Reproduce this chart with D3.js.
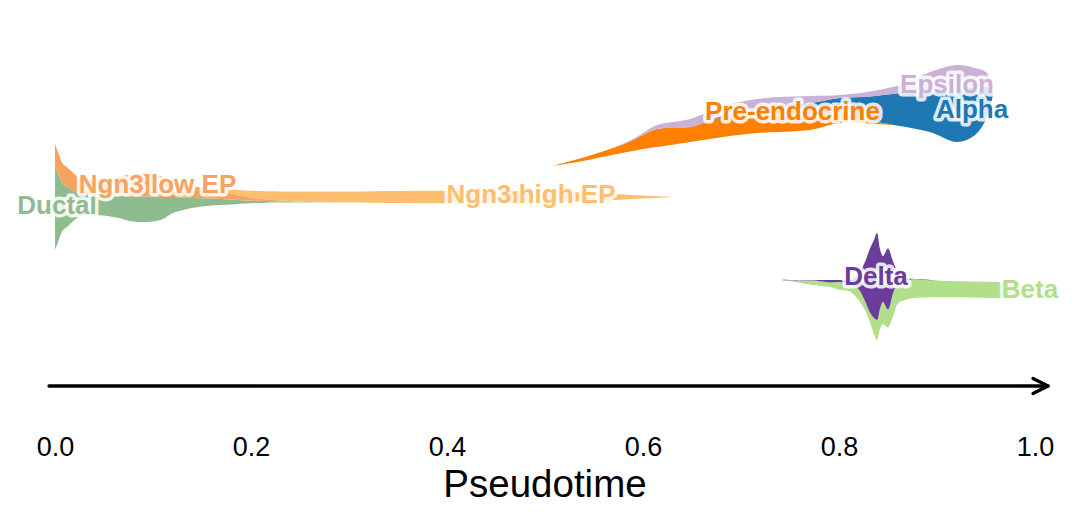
<!DOCTYPE html>
<html>
<head>
<meta charset="utf-8">
<script src="https://cdn.jsdelivr.net/npm/d3@7/dist/d3.min.js"></script>
<style>
  html, body { margin: 0; padding: 0; background: #ffffff; }
  svg { display: block; }
  text { font-family: "Liberation Sans", Arial, Helvetica, sans-serif; }
</style>
</head>
<body>
<svg id="chart" width="1081" height="522"></svg>
<script>
// ---------------- data ----------------
// tick labels
const tickValues = [0.0, 0.2, 0.4, 0.6, 0.8, 1.0];
const axisLabel = "Pseudotime";

// segment 1: root (Ductal -> Ngn3 low EP -> Ngn3 high EP)
const seg1Time   = [0, 0.0031, 0.0082, 0.0122, 0.0204, 0.0255, 0.0398, 0.0602, 0.0796, 0.1, 0.1102, 0.1204, 0.1398, 0.1602, 0.1796, 0.2, 0.2296, 0.2602, 0.3, 0.35, 0.4, 0.45, 0.5, 0.55, 0.5765, 0.6, 0.6224, 0.6296];
const seg1Center = [189, 189, 189, 189, 189, 189, 189, 189, 188, 188, 188, 189, 189, 189, 189, 189, 189, 189, 189, 189, 189, 189, 189, 189, 189, 189, 189, 189];
const ductal     = [84, 68, 46, 40, 28, 22, 20, 22, 25, 25, 22, 16, 10, 7, 5, 2.5, 1, 0.3, 0, 0, 0, 0, 0, 0, 0, 0, 0, 0];
const ngn3Low    = [22, 22, 20, 20, 17, 16, 16, 18, 22, 22, 20, 16, 12, 9, 6, 3, 1, 0.3, 0, 0, 0, 0, 0, 0, 0, 0, 0, 0];
const ngn3High   = [0, 0, 0, 0, 0, 0, 0, 0, 0, 0, 0, 0, 0, 1, 4, 7, 9, 10.5, 11, 12, 12.5, 12, 11, 8, 5.5, 3, 0.8, 0];

// segment 2: Pre-endocrine -> Alpha / Epsilon
const seg2Time   = [0.5071, 0.5357, 0.5633, 0.5867, 0.6, 0.6143, 0.648, 0.6816, 0.7163, 0.7398, 0.7704, 0.801, 0.8316, 0.8622, 0.8929, 0.9204, 0.9388, 0.951, 0.9571];
const seg2Center = [220, 226, 233, 240, 245, 250, 255.5, 264.5, 270, 271.5, 273, 277, 278.5, 280.5, 284, 282.5, 284.5, 291, 291];
const preEndo    = [0, 3, 6, 10, 14, 18, 15, 20, 22, 23, 19, 10, 3, 0, 0, 0, 0, 0, 0];
const alpha      = [0, 0, 0, 0, 0, 0, 0, 1, 2, 4, 8, 15, 24, 33, 42, 55, 47, 30, 0];
const epsilon    = [0, 0, 0, 1, 2, 4, 8, 10, 10, 8, 7, 3, 5, 8, 18, 22, 20, 14, 0];

// segment 3: Beta / Delta
const seg3Time   = [0.7418, 0.7551, 0.7704, 0.7827, 0.7908, 0.801, 0.8112, 0.8194, 0.8265, 0.8316, 0.8357, 0.8388, 0.8418, 0.8449, 0.85, 0.8551, 0.8602, 0.8673, 0.8776, 0.9031, 0.9337, 0.9622, 0.9796, 0.9949];
const seg3Center = [106, 105, 103.5, 103, 102.5, 101, 100, 99, 100, 100.5, 99, 99.5, 97, 96, 98, 97, 98, 97, 97.5, 97, 96.5, 96, 96, 96];
const beta       = [0, 1.6, 3.5, 4.5, 4.5, 8, 7, 11, 9, 10, 16, 20, 20, 22, 18, 23, 21, 19, 19, 16.5, 16, 16, 14, 0];
const delta      = [0.6, 0.4, 0.5, 1.5, 2.5, 2, 4, 14, 39, 64, 78, 87, 60, 46, 61, 32, 10, 3, 0, 0, 0, 0, 0, 0];

// category names and colours
const categories = ["Ductal", "Ngn3 low EP", "Ngn3 high EP", "Pre-endocrine", "Beta", "Alpha", "Delta", "Epsilon"];
const catColors  = ["#8fbc8f", "#f4a460", "#fdbf6f", "#ff7f00", "#b2df8a", "#1f78b4", "#6a3d9a", "#cab2d6"];

// ---------------- drawing ----------------
const svg = d3.select("#chart");
const color = d3.scaleOrdinal().domain(categories).range(catColors);

const x = d3.scaleLinear().domain([0, 1]).range([55, 1035]);
const y = d3.scaleLinear().domain([0, 386]).range([386, 0]);

function buildRows(times, centers, series) {
  return times.map((t, i) => {
    const row = { t: t, c: centers[i] };
    series.forEach(s => { row[s.name] = s.values[i]; });
    return row;
  });
}

function drawSegment(times, centers, series) {
  const rows = buildRows(times, centers, series);
  const keys = series.map(s => s.name); // bottom -> top
  const stack = d3.stack().keys(keys).offset(d3.stackOffsetSilhouette);
  const layers = stack(rows);
  const area = d3.area()
    .curve(d3.curveCatmullRom.alpha(0.5))
    .x(d => x(d.data.t))
    .y0(d => y(d.data.c + d[0]))
    .y1(d => y(d.data.c + d[1]));
  svg.append("g").selectAll("path")
    .data(layers)
    .join("path")
    .attr("d", area)
    .attr("fill", d => color(d.key))
    .attr("stroke", "none");
}

drawSegment(seg1Time, seg1Center, [
  { name: "Ductal", values: ductal },
  { name: "Ngn3 low EP", values: ngn3Low },
  { name: "Ngn3 high EP", values: ngn3High }
]);
drawSegment(seg2Time, seg2Center, [
  { name: "Pre-endocrine", values: preEndo },
  { name: "Alpha", values: alpha },
  { name: "Epsilon", values: epsilon }
]);
drawSegment(seg3Time, seg3Center, [
  { name: "Beta", values: beta },
  { name: "Delta", values: delta }
]);

// category labels with white halo
const labelPos = {
  "Ductal":        [57, 214],
  "Ngn3 low EP":   [157.5, 193],
  "Ngn3 high EP":  [531, 203],
  "Pre-endocrine": [792.5, 120],
  "Epsilon":       [947, 92.5],
  "Alpha":         [972, 117.5],
  "Delta":         [876, 285],
  "Beta":          [1030, 298]
};
const lg = svg.append("g");
categories.forEach(name => {
  const p = labelPos[name];
  lg.append("text")
    .attr("x", p[0]).attr("y", p[1])
    .attr("text-anchor", "middle")
    .attr("font-size", 26)
    .attr("font-weight", "bold")
    .attr("fill", color(name))
    .attr("stroke", "white")
    .attr("stroke-opacity", 0.85)
    .attr("stroke-width", 7)
    .attr("stroke-linejoin", "round")
    .attr("paint-order", "stroke")
    .text(name);
});

// pseudotime arrow
const ay = 386;
const x0 = x(-0.0061), x1 = x(1.0133);
svg.append("line")
  .attr("x1", x0).attr("x2", x1).attr("y1", ay).attr("y2", ay)
  .attr("stroke", "#000").attr("stroke-width", 3.4).attr("stroke-linecap", "round");
svg.append("path")
  .attr("d", `M${x1 - 15},${ay - 7.5}L${x1},${ay}L${x1 - 15},${ay + 7.5}`)
  .attr("fill", "none").attr("stroke", "#000").attr("stroke-width", 3.4)
  .attr("stroke-linecap", "round").attr("stroke-linejoin", "round");

// tick labels
const axis = d3.axisBottom(x).tickValues(tickValues).tickFormat(d3.format(".1f")).tickSize(0);
const ag = svg.append("g").attr("transform", "translate(0,456)").call(axis);
ag.select(".domain").remove();
ag.selectAll("text")
  .attr("y", 0).attr("dy", 0)
  .attr("font-size", 27)
  .attr("font-family", "Liberation Sans, Arial, sans-serif")
  .attr("fill", "#000");

svg.append("text")
  .attr("x", x(0.5)).attr("y", 497)
  .attr("text-anchor", "middle")
  .attr("font-size", 38.5)
  .attr("fill", "#000")
  .text(axisLabel);
</script>
</body>
</html>
